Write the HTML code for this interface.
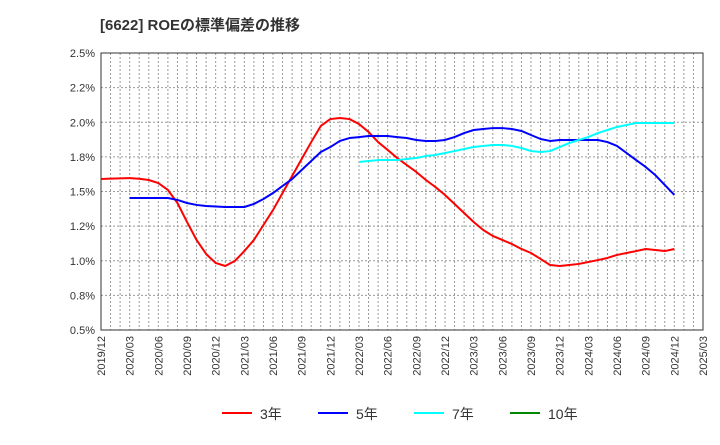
<!DOCTYPE html>
<html><head><meta charset="utf-8"><style>
body{margin:0;background:#fff;font-family:"Liberation Sans","Noto Sans CJK JP",sans-serif}
</style></head><body>
<svg id="chart" width="720" height="440" xmlns="http://www.w3.org/2000/svg" style="font-family:'Liberation Sans','Noto Sans CJK JP',sans-serif">
<text x="100" y="30" font-size="15" font-weight="bold" fill="#333">[6622]  ROEの標準偏差の推移</text>
<g id="grid"></g><g id="axes"></g><g id="series"></g>
<g>
<g><line x1="222" y1="413" x2="252" y2="413" stroke="#f00" stroke-width="2"/><text x="260" y="419" font-size="14" fill="#333">3年</text></g>
<g><line x1="318" y1="413" x2="348" y2="413" stroke="#00f" stroke-width="2"/><text x="356" y="419" font-size="14" fill="#333">5年</text></g>
<g><line x1="414" y1="413" x2="444" y2="413" stroke="#0ff" stroke-width="2"/><text x="452" y="419" font-size="14" fill="#333">7年</text></g>
<g><line x1="510" y1="413" x2="540" y2="413" stroke="#080" stroke-width="2"/><text x="548" y="419" font-size="14" fill="#333">10年</text></g>
</g>
</svg>
<script>
const yTicks=[0.5,0.75,1.0,1.25,1.5,1.75,2.0,2.25,2.5];
const yTickLabels=["0.5%","0.8%","1.0%","1.2%","1.5%","1.8%","2.0%","2.2%","2.5%"];
const xTickLabels=["2019/12","2020/03","2020/06","2020/09","2020/12","2021/03","2021/06","2021/09","2021/12","2022/03","2022/06","2022/09","2022/12","2023/03","2023/06","2023/09","2023/12","2024/03","2024/06","2024/09","2024/12","2025/03"];
// monthly values starting 2019/12 (index 0)
const red=[1.590,1.593,1.595,1.597,1.592,1.583,1.561,1.511,1.417,1.280,1.150,1.049,0.984,0.962,0.998,1.070,1.150,1.258,1.366,1.489,1.612,1.735,1.857,1.973,2.023,2.031,2.023,1.987,1.930,1.857,1.800,1.742,1.691,1.641,1.583,1.532,1.475,1.410,1.345,1.280,1.222,1.179,1.150,1.121,1.085,1.056,1.013,0.969,0.962,0.969,0.977,0.991,1.005,1.020,1.042,1.056,1.070,1.085,1.078,1.070,1.085];
const blueStart=3;
const blue=[1.453,1.453,1.453,1.453,1.453,1.439,1.417,1.403,1.395,1.392,1.388,1.388,1.388,1.410,1.446,1.489,1.540,1.590,1.655,1.720,1.785,1.821,1.865,1.886,1.893,1.901,1.901,1.901,1.893,1.886,1.872,1.865,1.865,1.872,1.893,1.922,1.944,1.951,1.958,1.958,1.951,1.937,1.908,1.879,1.865,1.872,1.872,1.872,1.872,1.872,1.857,1.829,1.778,1.727,1.677,1.619,1.547,1.475];
const cyanStart=27;
const cyan=[1.713,1.720,1.727,1.727,1.727,1.735,1.742,1.756,1.764,1.778,1.792,1.807,1.821,1.829,1.836,1.836,1.829,1.814,1.792,1.785,1.792,1.821,1.850,1.872,1.893,1.922,1.944,1.966,1.980,1.995,1.995,1.995,1.995,1.995];
const X0=101,X1=703,Y0=53,Y1=330,NM=63;
const xs=i=>X0+i*(X1-X0)/NM;
const ys=v=>Y1-(v-0.5)/2*(Y1-Y0);
const NS="http://www.w3.org/2000/svg";
function mk(p,t,a){const e=document.createElementNS(NS,t);for(const k in a)e.setAttribute(k,a[k]);p.appendChild(e);return e;}
const grid=document.getElementById('grid'),axes=document.getElementById('axes'),ser=document.getElementById('series');
for(let i=1;i<NM;i++){const l=mk(grid,'line',{x1:xs(i),x2:xs(i),y1:Y0,y2:Y1,stroke:'#999','stroke-dasharray':'2,2','stroke-width':1});

}
yTicks.forEach((v,k)=>{const l=mk(grid,'line',{x1:X0,x2:X1,y1:ys(v),y2:ys(v),stroke:'#999','stroke-dasharray':'2,2','stroke-width':1});


const t=mk(axes,'text',{x:X0-6,y:ys(v)+4,'text-anchor':'end','font-size':11,fill:'#333'});t.textContent=yTickLabels[k];

});
xTickLabels.forEach((s,k)=>{const x=xs(k*3),y=Y1+6;const t=mk(axes,'text',{x:x+4,y:y,'text-anchor':'end','font-size':11,fill:'#333',transform:`rotate(-90 ${x+4} ${y})`});t.textContent=s;

});
const fr=mk(axes,'rect',{x:X0,y:Y0,width:X1-X0,height:Y1-Y0,fill:'none',stroke:'#333','stroke-width':1});


function line(arr,start,col,name){const p=mk(ser,'polyline',{points:arr.map((v,i)=>xs(i+start)+','+ys(v)).join(' '),fill:'none',stroke:col,'stroke-width':2,'stroke-linejoin':'round'});

}
line(red,0,'#f00','series-3y');
line(blue,blueStart,'#00f','series-5y');
line(cyan,cyanStart,'#0ff','series-7y');
</script>
</body></html>
